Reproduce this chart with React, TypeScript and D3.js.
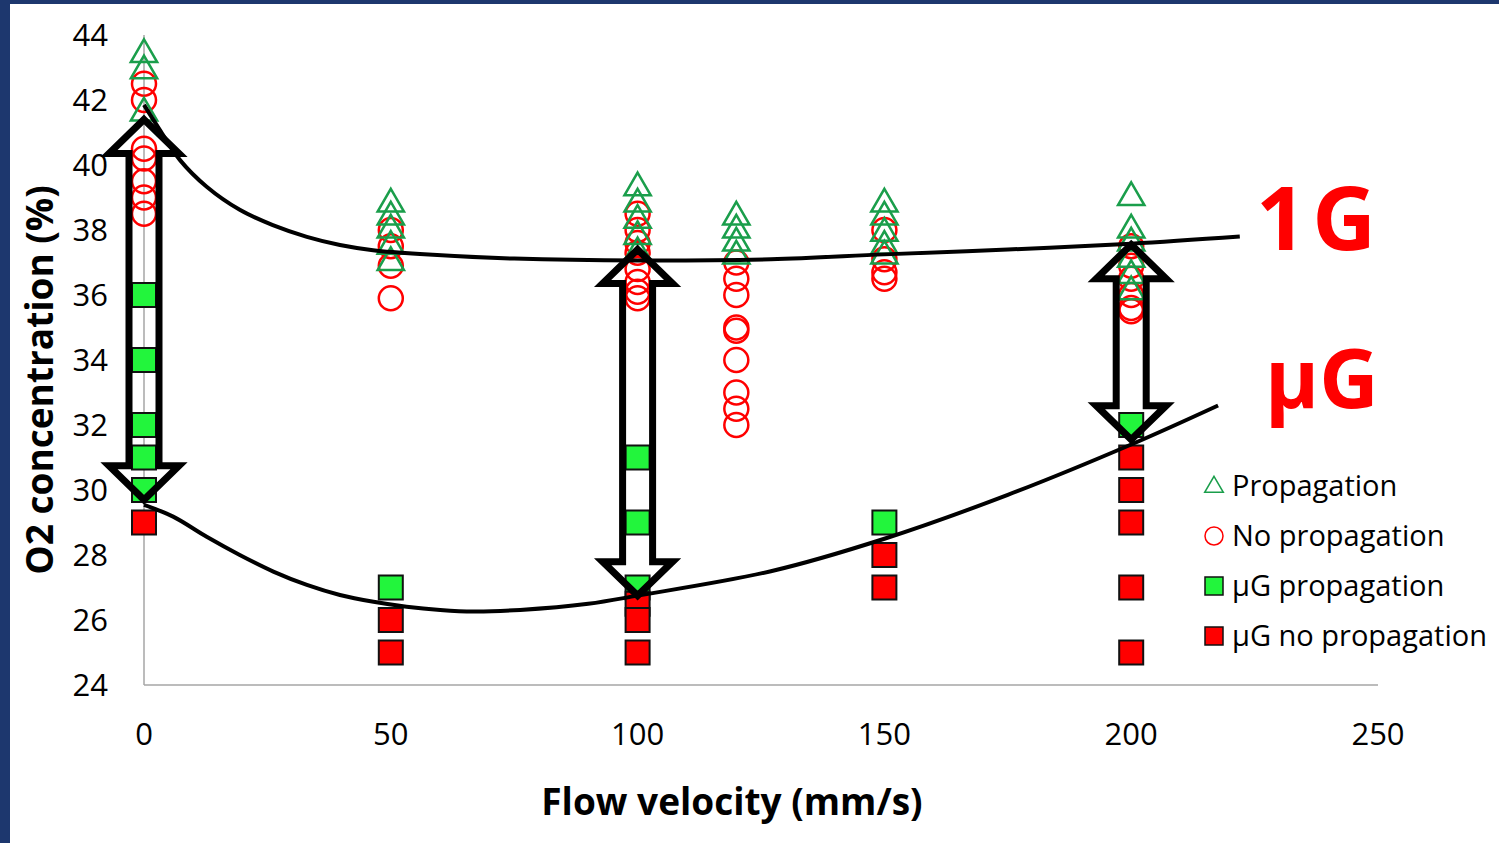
import * as d3 from 'd3'

// flow velocity (mm/s), O2 concentration (%)
const propagation: [number, number][] = [
  [0, 43.4], [0, 42.9], [0, 41.6],
  [50, 38.8], [50, 38.4], [50, 38.0], [50, 37.5], [50, 37.0],
  [100, 39.3], [100, 38.8], [100, 38.3], [100, 37.8], [100, 37.3],
  [120, 38.4], [120, 38.0], [120, 37.6], [120, 37.2],
  [150, 38.8], [150, 38.4], [150, 37.9], [150, 37.5], [150, 37.2],
  [200, 39.0], [200, 38.0], [200, 37.6], [200, 37.1], [200, 36.6], [200, 36.1]
]

const noPropagation: [number, number][] = [
  [0, 42.5], [0, 42.0], [0, 40.5], [0, 40.2], [0, 39.5], [0, 39.0], [0, 38.5],
  [50, 38.0], [50, 37.5], [50, 36.9], [50, 35.9],
  [100, 38.5], [100, 38.0], [100, 37.6], [100, 37.3], [100, 36.8], [100, 36.4], [100, 36.1], [100, 35.9],
  [120, 37.0], [120, 36.5], [120, 36.0], [120, 35.0], [120, 34.9], [120, 34.0], [120, 33.0], [120, 32.5], [120, 32.0],
  [150, 38.0], [150, 37.1], [150, 36.7], [150, 36.5],
  [200, 37.5], [200, 36.9], [200, 36.5], [200, 36.0], [200, 35.6], [200, 35.5]
]

const ugPropagation: [number, number][] = [
  [0, 36], [0, 34], [0, 32], [0, 31], [0, 30],
  [50, 27],
  [100, 31], [100, 29], [100, 27],
  [150, 29],
  [200, 32]
]

const ugNoPropagation: [number, number][] = [
  [0, 29],
  [50, 26], [50, 25],
  [100, 26.5], [100, 26], [100, 25],
  [150, 28], [150, 27],
  [200, 31], [200, 30], [200, 29], [200, 27], [200, 25]
]

// hand drawn trend curves
const trend1G: [number, number][] = [
  [0, 41.85], [3.2, 41.08], [7.3, 40.15], [12.7, 39.33], [19.4, 38.62], [26.1, 38.15],
  [33, 37.79], [39.7, 37.54], [46.4, 37.38], [55.9, 37.26], [75, 37.12], [100, 37.06],
  [127, 37.1], [150, 37.25], [175, 37.4], [200, 37.58], [222, 37.8]
]

const trendUG: [number, number][] = [
  [0, 29.54], [5.9, 29.18], [12.7, 28.56], [19.4, 28.0], [26.2, 27.49], [33, 27.08],
  [39.7, 26.77], [46.5, 26.56], [53.2, 26.41], [60, 26.31], [66.7, 26.26], [76.2, 26.31],
  [90, 26.5], [100, 26.75], [127, 27.5], [150, 28.5], [175, 29.85], [200, 31.4], [217.6, 32.6]
]

// double headed arrows between the curves
const arrows = [
  { v: 0, top: 41.4, bottom: 29.7 },
  { v: 100, top: 37.4, bottom: 26.75 },
  { v: 200, top: 37.55, bottom: 31.55 }
]

const xTicks = [0, 50, 100, 150, 200, 250]
const yTicks = [24, 26, 28, 30, 32, 34, 36, 38, 40, 42, 44]

const legendItems = ['Propagation', 'No propagation', 'µG propagation', 'µG no propagation']

const FONT = '"Open Sans", sans-serif'
const GREEN_LINE = '#1a9e4b'
const RED = '#ff0000'
const GREEN_FILL = '#22f53c'
const NAVY = '#1d376e'

const x = d3.scaleLinear().domain([0, 250]).range([144, 1378])
const y = d3.scaleLinear().domain([24, 44]).range([685, 35])

const trianglePath = d3.symbol().type(d3.symbolTriangle).size(300)()
const legendTriangle = d3.symbol().type(d3.symbolTriangle).size(150)()

const line = d3.line<[number, number]>()
  .x(d => x(d[0]))
  .y(d => y(d[1]))
  .curve(d3.curveCatmullRom)

const arrowPath = (cx: number, yTop: number, yBot: number) => {
  const hw = 35, sw = 15, hl = 34
  return [
    `M${cx},${yTop}`,
    `L${cx + hw},${yTop + hl}`,
    `L${cx + sw},${yTop + hl}`,
    `L${cx + sw},${yBot - hl}`,
    `L${cx + hw},${yBot - hl}`,
    `L${cx},${yBot}`,
    `L${cx - hw},${yBot - hl}`,
    `L${cx - sw},${yBot - hl}`,
    `L${cx - sw},${yTop + hl}`,
    `L${cx - hw},${yTop + hl}`,
    'Z'
  ].join('')
}

const App = () => {
  return (
    <>
      <style>{'body{margin:0}'}</style>
      <svg width={1499} height={843} style={{ display: 'block', background: '#fff' }} fontFamily={FONT}>
        {/* slide frame */}
        <rect x={0} y={0} width={10} height={843} fill={NAVY} />
        <rect x={0} y={0} width={1499} height={4} fill={NAVY} />

        {/* axes */}
        <line x1={x(0)} x2={x(0)} y1={y(24)} y2={y(44)} stroke="#a6a6a6" strokeWidth={1.5} />
        <line x1={x(0)} x2={x(250)} y1={y(24)} y2={y(24)} stroke="#a6a6a6" strokeWidth={1.5} />

        {yTicks.map(t => (
          <text key={'y' + t} x={108} y={y(t)} dy="0.35em" textAnchor="end" fontSize={31} fill="#000">{t}</text>
        ))}
        {xTicks.map(t => (
          <text key={'x' + t} x={x(t)} y={745} textAnchor="middle" fontSize={31} fill="#000">{t}</text>
        ))}

        <text x={732} y={815} textAnchor="middle" fontSize={37} fontWeight="bold" fill="#000">Flow velocity (mm/s)</text>
        <text transform={`translate(53,380) rotate(-90)`} textAnchor="middle" fontSize={37} fontWeight="bold" fill="#000">O2 concentration (%)</text>

        {/* markers */}
        {noPropagation.map((d, i) => (
          <circle key={'c' + i} cx={x(d[0])} cy={y(d[1])} r={12} fill="none" stroke={RED} strokeWidth={2.5} />
        ))}
        {propagation.map((d, i) => (
          <path key={'t' + i} d={trianglePath} transform={`translate(${x(d[0])},${y(d[1])})`} fill="none" stroke={GREEN_LINE} strokeWidth={2.5} />
        ))}
        {ugPropagation.map((d, i) => (
          <rect key={'g' + i} x={x(d[0]) - 12} y={y(d[1]) - 12} width={24} height={24} fill={GREEN_FILL} stroke="#111" strokeWidth={2} />
        ))}
        {ugNoPropagation.map((d, i) => (
          <rect key={'r' + i} x={x(d[0]) - 12} y={y(d[1]) - 12} width={24} height={24} fill={RED} stroke="#111" strokeWidth={2} />
        ))}

        {/* trend curves */}
        <path d={line(trend1G) ?? ''} fill="none" stroke="#000" strokeWidth={4} />
        <path d={line(trendUG) ?? ''} fill="none" stroke="#000" strokeWidth={4} />

        {/* arrows */}
        {arrows.map((a, i) => (
          <path key={'a' + i} d={arrowPath(x(a.v), y(a.top), y(a.bottom))} fill="none" stroke="#000" strokeWidth={7} strokeLinejoin="miter" strokeMiterlimit={4} />
        ))}

        {/* big labels */}
        <text x={1256} y={250} fontSize={88} fontWeight="bold" fill={RED} letterSpacing={6}>1G</text>
        <text x={1265} y={408} fontSize={82} fontWeight="bold" fill={RED}>µG</text>

        {/* legend */}
        {legendItems.map((label, i) => {
          const ly = 486 + i * 50
          return (
            <g key={label} transform={`translate(1214,${ly})`}>
              {i === 0 && <path d={legendTriangle} transform="translate(0,1)" fill="none" stroke={GREEN_LINE} strokeWidth={1.5} />}
              {i === 1 && <circle r={9} fill="none" stroke={RED} strokeWidth={1.5} />}
              {i === 2 && <rect x={-9} y={-9} width={18} height={18} fill={GREEN_FILL} stroke="#111" strokeWidth={1.5} />}
              {i === 3 && <rect x={-9} y={-9} width={18} height={18} fill={RED} stroke="#111" strokeWidth={1.5} />}
              <text x={18} y={0} dy="0.35em" fontSize={29} fill="#000">{label}</text>
            </g>
          )
        })}
      </svg>
    </>
  )
}

export default App
